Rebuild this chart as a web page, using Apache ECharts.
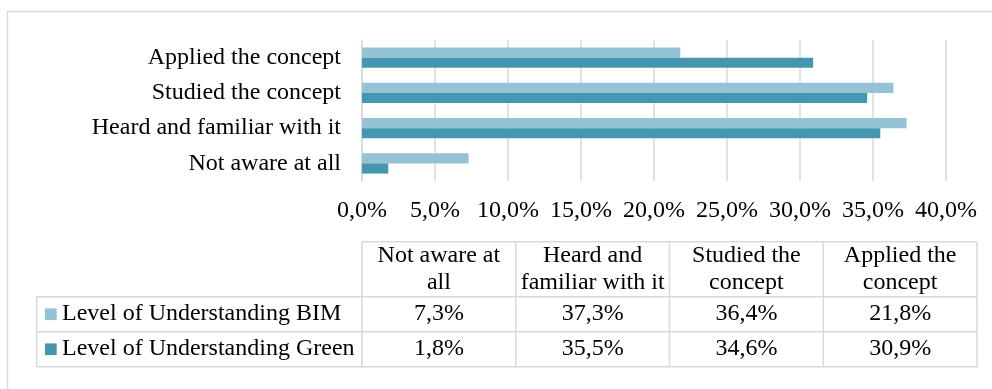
<!DOCTYPE html>
<html>
<head>
<meta charset="utf-8">
<script src="https://cdn.jsdelivr.net/npm/echarts@6/dist/echarts.min.js"></script>
<style>
  html, body { margin: 0; padding: 0; background: #fff; }
  #chart { width: 992px; height: 389px; }
</style>
</head>
<body>
<div id="chart"></div>
<script>
// Levels of understanding, bottom to top on the category axis
const categories = ['Not aware at all', 'Heard and familiar with it', 'Studied the concept', 'Applied the concept'];
// Column headings of the data table (wrapped the same way as in the cells)
const tableHeaders = ['Not aware at\nall', 'Heard and\nfamiliar with it', 'Studied the\nconcept', 'Applied the\nconcept'];
const seriesNames = ['Level of Understanding BIM', 'Level of Understanding Green'];
const bimValues = [7.3, 37.3, 36.4, 21.8];
const greenValues = [1.8, 35.5, 34.6, 30.9];
const xTicks = { min: 0, max: 40, interval: 5 };

const colorBIM = '#93C3D4';
const colorGreen = '#4398B0';
const gridColor = '#D9D9D9';
const font = '"Liberation Serif", "Times New Roman", serif';
const fontSize = 24;
const textColor = '#000';

const fmtPct = v => v.toFixed(1).replace('.', ',') + '%';

// Table geometry
const tblLeft = 362, tblRight = 977, legendLeft = 36.7;
const rowEdges = [241.7, 296.7, 331.7, 366.7];
const colW = (tblRight - tblLeft) / categories.length;

const graphic = [];
// outer frame
graphic.push({ type: 'rect', shape: { x: 7.5, y: 11.5, width: 1000, height: 400 },
  style: { fill: 'none', stroke: gridColor, lineWidth: 1.5 }, silent: true });

function hline(x1, x2, y) {
  graphic.push({ type: 'line', shape: { x1, y1: y, x2, y2: y },
    style: { stroke: gridColor, lineWidth: 1.5 }, silent: true });
}
function vline(x, y1, y2) {
  graphic.push({ type: 'line', shape: { x1: x, y1, x2: x, y2 },
    style: { stroke: gridColor, lineWidth: 1.5 }, silent: true });
}
function cellText(text, cx, cy) {
  graphic.push({ type: 'text', x: cx, y: cy, silent: true,
    style: { text, fill: textColor, font: fontSize + 'px ' + font,
      align: 'center', verticalAlign: 'middle', lineHeight: 26.5 } });
}

// horizontal rules
hline(tblLeft, tblRight, rowEdges[0]);
for (let r = 1; r < rowEdges.length; r++) hline(legendLeft, tblRight, rowEdges[r]);
// vertical rules
vline(legendLeft, rowEdges[1], rowEdges[3]);
for (let c = 0; c <= categories.length; c++) vline(tblLeft + c * colW, rowEdges[0], rowEdges[3]);

// header cells
tableHeaders.forEach((h, i) => cellText(h, tblLeft + (i + 0.5) * colW, (rowEdges[0] + rowEdges[1]) / 2));

// data rows with legend keys
[[bimValues, colorBIM], [greenValues, colorGreen]].forEach(([vals, col], r) => {
  const cy = (rowEdges[r + 1] + rowEdges[r + 2]) / 2;
  graphic.push({ type: 'rect', shape: { x: 45, y: cy - 5.8, width: 11.7, height: 11.7 },
    style: { fill: col }, silent: true });
  graphic.push({ type: 'text', x: 62, y: cy, silent: true,
    style: { text: seriesNames[r], fill: textColor, font: fontSize + 'px ' + font,
      align: 'left', verticalAlign: 'middle' } });
  vals.forEach((v, i) => cellText(fmtPct(v), tblLeft + (i + 0.5) * colW, cy));
});

const chart = echarts.init(document.getElementById('chart'));
chart.setOption({
  animation: false,
  backgroundColor: '#fff',
  grid: { left: 362, right: 46, top: 40, bottom: 208, containLabel: false },
  xAxis: {
    type: 'value', min: xTicks.min, max: xTicks.max, interval: xTicks.interval,
    axisLine: { show: false }, axisTick: { show: false },
    splitLine: { lineStyle: { color: gridColor, width: 1.5 } },
    axisLabel: { formatter: fmtPct, color: textColor, fontFamily: font, fontSize, margin: 18 }
  },
  yAxis: {
    type: 'category', data: categories,
    axisLine: { show: true, lineStyle: { color: gridColor, width: 1.5 } },
    axisTick: { show: false },
    axisLabel: { color: textColor, fontFamily: font, fontSize, margin: 21 }
  },
  series: [
    // the first series sits at the top of each category band
    { name: seriesNames[0], type: 'bar', data: bimValues, barGap: '0%', barCategoryGap: '42%',
      itemStyle: { color: colorBIM } },
    { name: seriesNames[1], type: 'bar', data: greenValues, barGap: '0%', barCategoryGap: '42%',
      itemStyle: { color: colorGreen } }
  ],
  graphic
});
</script>
</body>
</html>
